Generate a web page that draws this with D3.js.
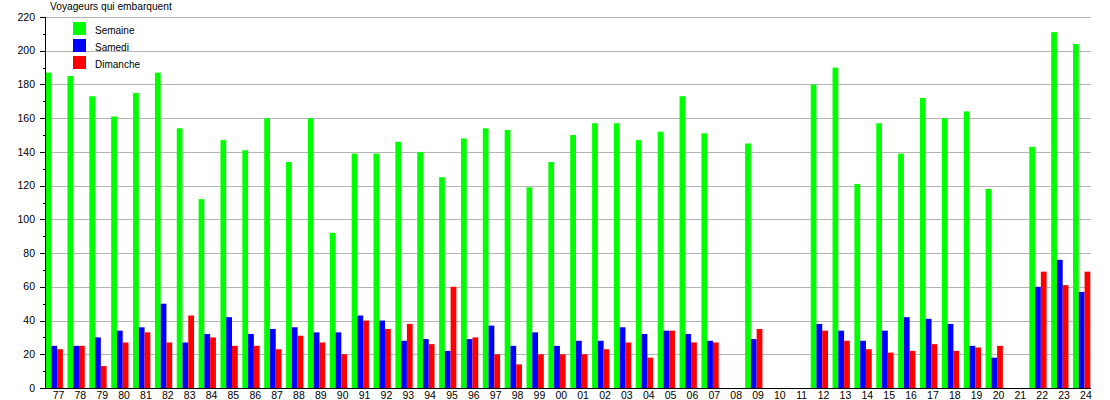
<!DOCTYPE html>
<html>
<head>
<meta charset="utf-8">
<script src="https://cdn.jsdelivr.net/npm/d3@7"></script>
<style>
  body { margin: 0; background: #fff; }
  text { font-family: "Liberation Sans", Arial, sans-serif; }
</style>
</head>
<body>
<div id="container"></div>
<script>
// categories (years, 2 digits)
var years = ['77','78','79','80','81','82','83','84','85','86','87','88','89','90','91','92','93','94','95','96','97','98','99','00',
    '01','02','03','04','05','06','07','08','09','10','11','12','13','14','15','16','17','18','19','20','21','22','23','24']

// series values (null = no data)
var semaine = [187,185,173,161,175,187,154,112,147,141,160,134,160,92,139,139,146,140,125,148,154,153,119,134,
    150,157,157,147,152,173,151,null,145,null,null,180,190,121,157,139,172,160,164,118,null,143,211,204]
var samedi = [25,25,30,34,36,50,27,32,42,32,35,36,33,33,43,40,28,29,22,29,37,25,33,25,
    28,28,36,32,34,32,28,null,29,null,null,38,34,28,34,42,41,38,25,18,null,60,76,57]
var dimanche = [23,25,13,27,33,27,43,30,25,25,23,31,27,20,40,35,38,26,60,30,20,14,20,20,
    20,23,27,18,34,27,27,null,35,null,null,34,28,23,21,22,26,22,24,25,null,69,61,69]

var seriesNames = ['Semaine', 'Samedi', 'Dimanche']
var seriesColors = ['#00ff00', '#0000ff', '#ff0000']
var yTicks = [0,20,40,60,80,100,120,140,160,180,200,220]

// plot area
var width = 1110,
    height = 400,
    plot = { left: 45, right: 1091, top: 17, bottom: 388 }

var svg = d3.select('#container')
    .append('svg')
    .attr('width', width)
    .attr('height', height)

var x = d3.scaleBand().domain(years).range([plot.left, plot.left + 48 * 21.86])
var xSub = d3.scaleBand().domain(seriesNames).range([0.6, 17.9])
var y = d3.scaleLinear().domain([0, 220]).range([plot.bottom, plot.top])

function yPix(d) {
    return Math.round(y(d)) + 0.5
}

// grid lines
svg.append('g')
    .selectAll('line')
    .data(yTicks.slice(1))
    .enter()
    .append('line')
    .attr('x1', plot.left)
    .attr('x2', plot.right)
    .attr('y1', yPix)
    .attr('y2', yPix)
    .style('stroke', '#b4b4b4')
    .style('stroke-width', 1)

// bars
var allSeries = [semaine, samedi, dimanche]
allSeries.forEach(function(vals, si) {
    svg.append('g')
        .selectAll('rect')
        .data(vals.map(function(v, i) { return { year: years[i], v: v } }).filter(function(d) { return d.v != null }))
        .enter()
        .append('rect')
        .attr('x', function(d) { return x(d.year) + xSub(seriesNames[si]) })
        .attr('width', xSub.bandwidth())
        .attr('y', function(d) { return y(d.v) })
        .attr('height', function(d) { return y(0) - y(d.v) })
        .style('fill', seriesColors[si])
})

// y axis
var yAxis = svg.append('g')
yAxis.append('line')
    .attr('x1', plot.left + 0.5).attr('x2', plot.left + 0.5)
    .attr('y1', plot.top).attr('y2', plot.bottom)
    .style('stroke', '#000')
yAxis.selectAll('.major')
    .data(yTicks)
    .enter()
    .append('line')
    .attr('class', 'major')
    .attr('x1', plot.left - 5).attr('x2', plot.left)
    .attr('y1', yPix)
    .attr('y2', yPix)
    .style('stroke', '#000')
yAxis.selectAll('.minor')
    .data(yTicks.slice(1).map(function(d) { return d - 10 }))
    .enter()
    .append('line')
    .attr('class', 'minor')
    .attr('x1', plot.left - 2).attr('x2', plot.left)
    .attr('y1', yPix)
    .attr('y2', yPix)
    .style('stroke', '#000')
yAxis.selectAll('text')
    .data(yTicks)
    .enter()
    .append('text')
    .attr('x', 35)
    .attr('y', function(d) { return y(d) })
    .attr('dy', '0.35em')
    .attr('text-anchor', 'end')
    .style('font-size', '10.5px')
    .text(function(d) { return d })

// x axis
svg.append('line')
    .attr('x1', plot.left).attr('x2', plot.right)
    .attr('y1', plot.bottom + 0.5).attr('y2', plot.bottom + 0.5)
    .style('stroke', '#000')
svg.append('g')
    .selectAll('text')
    .data(years)
    .enter()
    .append('text')
    .attr('x', function(d) { return x(d) + 13.5 })
    .attr('y', 399)
    .attr('text-anchor', 'middle')
    .style('font-size', '10.5px')
    .text(function(d) { return d })

// title
svg.append('text')
    .attr('x', 50)
    .attr('y', 10)
    .style('font-size', '10.2px')
    .text('Voyageurs qui embarquent')

// legend
var legend = svg.append('g')
    .selectAll('g')
    .data(seriesNames)
    .enter()
    .append('g')
    .attr('transform', function(d, i) { return 'translate(73,' + (22 + i * 17) + ')' })
legend.append('rect')
    .attr('width', 13)
    .attr('height', 13)
    .style('fill', function(d, i) { return seriesColors[i] })
legend.append('text')
    .attr('x', 22)
    .attr('y', 8.5)
    .attr('dy', '0.35em')
    .style('font-size', '10px')
    .text(function(d) { return d })
</script>
</body>
</html>
